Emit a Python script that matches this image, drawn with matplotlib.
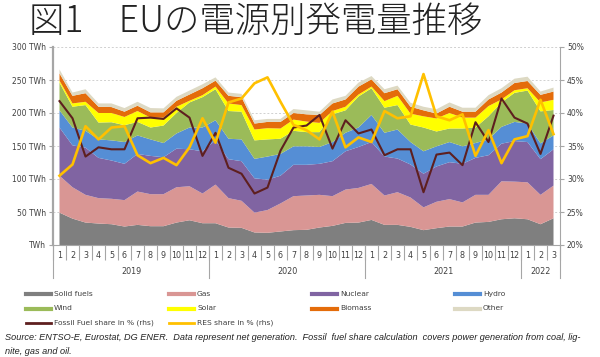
import numpy as np
import matplotlib
matplotlib.use("Agg")
import matplotlib.pyplot as plt
from matplotlib.lines import Line2D

# ---------------- data ----------------
months = [str(m) for m in range(1, 13)] * 3 + ["1", "2", "3"]
years = ["2019", "2020", "2021", "2022"]

solid = [49, 40, 34, 32.5, 31.5, 28, 30.5, 28.5, 28.5, 34, 37.5, 33,
         33, 26.5, 26, 19, 18.5, 20.5, 22.5, 23, 26.5, 29, 33.5, 34,
         38, 30.5, 30.5, 27.5, 22.5, 25.5, 28, 28, 34, 35, 39, 40.5,
         39, 31.5, 40.5]
gas = [56, 47.5, 42, 38.5, 38.5, 40, 50.5, 48.5, 48.5, 53.5, 51.5, 45,
       58.5, 44.5, 41, 30, 34.5, 42.5, 51.5, 52, 49.5, 45, 50.5, 52.5,
       54.5, 44.5, 49.5, 44.5, 34.5, 40, 41.5, 36.5, 42, 41, 57.5, 55.5,
       56, 44.5, 49.5]
nuclear = [73, 63.5, 71.5, 61, 58, 55, 57, 58, 56, 58.5, 56, 64,
           67, 59, 60, 52, 46, 42, 47.5, 46.5, 47, 53, 58, 62,
           63.5, 59, 51, 50, 51, 53.5, 56, 58.5, 56, 60, 57, 61.5,
           61, 54, 55]
hydro = [26, 27, 25.5, 28, 30.5, 33, 28, 25, 21.5, 23, 33, 36,
         30.5, 31, 33, 29.5, 35, 33, 28, 28, 25.5, 29, 28, 29.5,
         41, 36, 44, 34, 34, 30.5, 30.5, 26.5, 22.5, 24, 25.5, 29,
         28, 24, 21]
wind = [42, 31.5, 39, 25.5, 27.5, 25.5, 20.5, 18, 26.5, 31, 38, 46,
        47, 42, 42, 28, 26, 23, 23.5, 21.5, 22.5, 42, 34, 47,
        40.5, 38, 37, 26.5, 36, 22.5, 20.5, 27, 23.5, 35, 37, 44,
        50, 48.5, 38.5]
solar = [3, 5, 5, 14.5, 14, 12.5, 16.5, 15, 12, 9.5, 2.5, 3,
         4, 11.5, 10, 16.5, 17, 15.5, 17, 16, 14, 5, 5.5, 3,
         2.5, 10, 14, 16.5, 17, 19.7, 23.5, 16.5, 15, 15.5, 4.5, 4,
         3.5, 13.5, 15.5]
biomass = [11, 11.5, 13, 9.5, 9, 8, 8, 8, 8, 9, 9.5, 10.5,
           9, 11.5, 12, 9, 9.5, 10, 10, 11, 12, 11.5, 11, 12,
           11, 12, 10, 10.5, 9, 7.5, 9.5, 9, 9, 10, 10.5, 11,
           11, 11.5, 12.5]
other = [6, 5, 6, 5, 5.5, 5.5, 6, 6.5, 6, 6, 6, 6,
         5, 5, 5, 5, 4.5, 4.5, 6, 6, 5, 6, 5.5, 6,
         5, 6, 5.5, 6, 5.5, 6.5, 6.5, 6, 6, 6.5, 6.5, 6.5,
         6.5, 5, 6]
fossil_share = [41.8, 39.2, 33.4, 34.8, 34.5, 34.5, 39.2, 39.3, 39.1, 40.7, 39.3, 33.5,
                37.0, 31.7, 30.8, 27.8, 28.7, 34.3, 37.8, 38.1, 39.7, 34.6, 38.9, 36.9,
                37.5, 33.6, 34.5, 34.5, 28.0, 33.7, 34.0, 32.1, 38.6, 35.6, 42.2, 39.3,
                38.4, 33.8, 39.6]
res_share = [30.5, 32.2, 38.0, 36.0, 37.8, 38.0, 33.6, 32.4, 33.2, 32.1, 34.8, 39.2,
             35.5, 41.6, 42.2, 44.5, 45.4, 41.7, 38.2, 37.4, 36.0, 40.2, 34.8, 36.3,
             35.6, 40.3, 39.2, 39.5, 45.9, 39.5, 38.9, 39.8, 33.5, 37.4, 32.4, 36.0,
             36.5, 42.0, 36.8]

series_names = ["Solid fuels", "Gas", "Nuclear", "Hydro", "Wind", "Solar", "Biomass", "Other"]
colors = ["#7f7f7f", "#d99694", "#8064a2", "#558ed5", "#9bbb59", "#ffff00", "#e46c0a", "#ddd9c3"]
fossil_color = "#5e1f1f"
res_color = "#ffc000"

# ---------------- figure ----------------
W, H = 600, 357
fig = plt.figure(figsize=(W / 100, H / 100), dpi=100)
fig.patch.set_facecolor("white")

def fx(px):
    return px / W

def fy(py):
    return 1 - py / H

ax_l, ax_r, ax_t, ax_b = 53, 560, 47, 245
ax = fig.add_axes([fx(ax_l), fy(ax_b), fx(ax_r - ax_l), (ax_b - ax_t) / H])

x = np.arange(len(months))
ax.stackplot(x, solid, gas, nuclear, hydro, wind, solar, biomass, other,
             colors=colors, linewidth=0)
ax.set_xlim(-0.5, len(months) - 0.5)
ax.set_ylim(0, 300)

grey = "#a6a6a6"
txtc = "#404040"
yt = np.arange(0, 301, 50)
ax.set_yticks(yt)
ax.set_yticklabels(["TWh" if v == 0 else f"{v} TWh" for v in yt], fontsize=5.5, color=txtc)
ax.tick_params(axis="y", length=3, width=0.8, color=grey, pad=2)
ax.set_axisbelow(True)
ax.yaxis.grid(True, color="#d0d0d0", linestyle=(0, (2, 2)), linewidth=0.7)

ax.set_xticks(x)
ax.set_xticklabels(months, fontsize=5.8, color=txtc)
ax.tick_params(axis="x", which="major", length=0, pad=4.5)
ax.set_xticks(np.arange(-0.5, len(months), 1), minor=True)
ax.tick_params(axis="x", which="minor", length=11, width=0.8, color=grey)

for s in ["top", "right"]:
    ax.spines[s].set_visible(False)
ax.spines["left"].set_color(grey)
ax.spines["left"].set_linewidth(1.6)
ax.spines["bottom"].set_color(grey)
ax.spines["bottom"].set_linewidth(0.8)

# year separators and labels
trans = ax.get_xaxis_transform()
ax_h = ax_b - ax_t
for b in [-0.5, 11.5, 23.5, 35.5, len(months) - 0.5]:
    ax.plot([b, b], [0, -(277.5 - ax_b) / ax_h], transform=trans, color=grey,
            linewidth=0.8, clip_on=False)
year_centers = [5.5, 17.5, 29.5, 37]
for yc, yl in zip(year_centers, years):
    ax.text(yc, -(271 - ax_b) / ax_h, yl, transform=trans, ha="center", va="center",
            fontsize=5.8, color=txtc)

# right axis
ax2 = ax.twinx()
ax2.set_ylim(20, 50)
pt = np.arange(20, 51, 5)
ax2.set_yticks(pt)
ax2.set_yticklabels([f"{v}%" for v in pt], fontsize=5.5, color=txtc)
ax2.tick_params(axis="y", length=3, width=0.8, color=grey, pad=2)
for s in ["top", "left", "bottom"]:
    ax2.spines[s].set_visible(False)
ax2.spines["right"].set_color(grey)
ax2.spines["right"].set_linewidth(0.8)
ax2.plot(x, fossil_share, color=fossil_color, linewidth=1.5, zorder=3)
ax2.plot(x, res_share, color=res_color, linewidth=1.9, zorder=4)

# title
fig.text(fx(29), fy(22), "図1\u3000EUの電源別発電量推移", fontsize=25.5,
         family=["Noto Sans CJK JP", "DejaVu Sans"], fontweight="light",
         ha="left", va="center", color="#222222")

# legend (manual, 4 columns)
legend_rows = [
    [("Solid fuels", colors[0]), ("Gas", colors[1]), ("Nuclear", colors[2]), ("Hydro", colors[3])],
    [("Wind", colors[4]), ("Solar", colors[5]), ("Biomass", colors[6]), ("Other", colors[7])],
    [("Fossil Fuel share in % (rhs)", fossil_color), ("RES share in % (rhs)", res_color)],
]
col_x = [26, 169, 312, 455]
row_y = [294, 308.5, 323]
for r, row in enumerate(legend_rows):
    for c, (name, col) in enumerate(row):
        lw = 3 if r < 2 else 2
        fig.add_artist(Line2D([fx(col_x[c]), fx(col_x[c] + 25)], [fy(row_y[r]), fy(row_y[r])],
                              transform=fig.transFigure, color=col, linewidth=lw))
        fig.text(fx(col_x[c] + 28), fy(row_y[r]), name, fontsize=5.4, color=txtc,
                 ha="left", va="center")

# source note
fig.text(fx(5), fy(337.5),
         "Source: ENTSO-E, Eurostat, DG ENER.  Data represent net generation.  Fossil  fuel share calculation  covers power generation from coal, lig-",
         fontsize=6.6, style="italic", family="Liberation Sans", color="#222222", ha="left", va="center")
fig.text(fx(5), fy(352), "nite, gas and oil.",
         fontsize=6.6, style="italic", family="Liberation Sans", color="#222222", ha="left", va="center")

fig.savefig("out.png", dpi=100)
